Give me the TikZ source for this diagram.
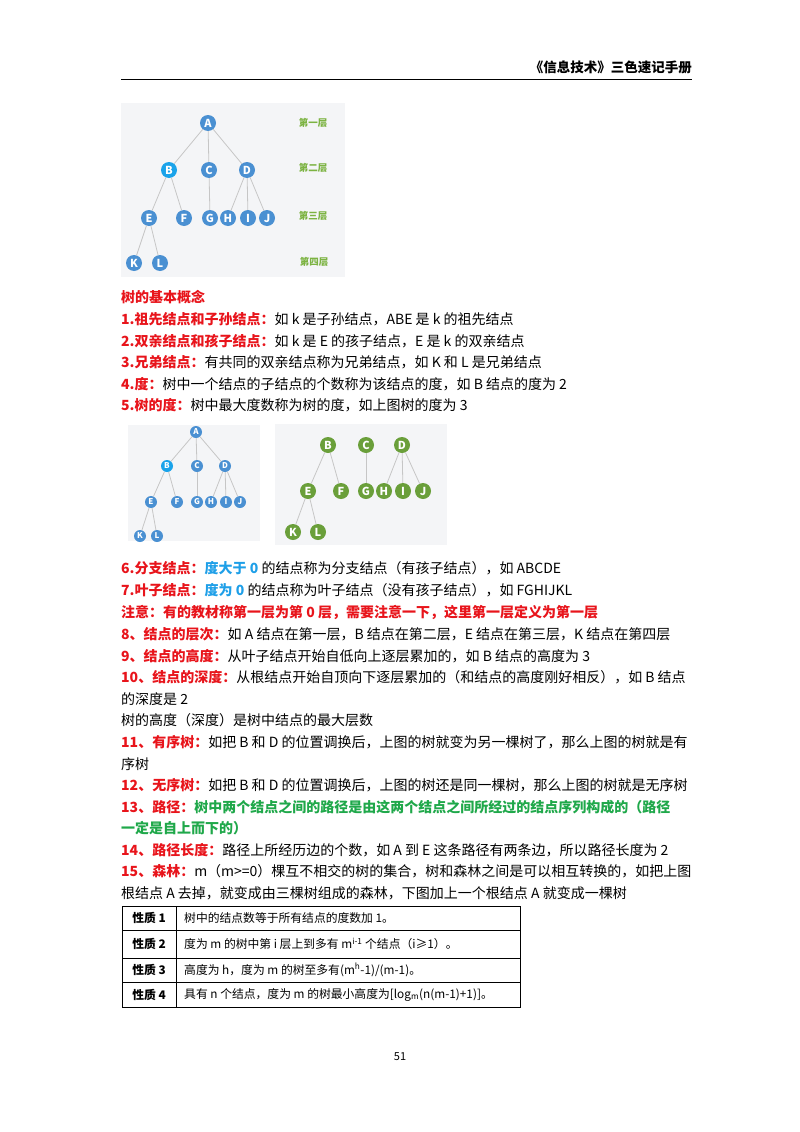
\documentclass[tikz,border=0pt]{standalone}
\usepackage{fontspec}
\setmainfont{Noto Sans CJK SC}
\definecolor{tblue}{HTML}{4A90D2}
\definecolor{tbb}{HTML}{1AA3EA}
\definecolor{tgreen}{HTML}{6A9F3A}
\definecolor{lgreen}{HTML}{7CB342}
\definecolor{bgg}{HTML}{F4F5F7}
\definecolor{lred}{HTML}{E8141B}
\definecolor{lcyan}{HTML}{1E9FE8}
\definecolor{lgr}{HTML}{1FA84A}
\newcommand{\lb}[1]{{\bfseries\color{lred}#1}}
\begin{document}
\begin{tikzpicture}[x=1pt,y=-1pt,
  txt/.style={anchor=west,inner sep=0pt,font=\fontsize{14}{16}\selectfont},
  bn/.style={circle,fill=tblue,text=white,inner sep=0pt,minimum size=16pt,font=\bfseries\fontsize{11}{12}\selectfont},
  sn/.style={bn,minimum size=12pt,font=\bfseries\fontsize{8}{9}\selectfont},
  gn/.style={bn,fill=tgreen},
  edge/.style={draw=gray!45,line width=0.8pt},
  lev/.style={text=lgreen,font=\bfseries\fontsize{9.5}{10}\selectfont},
  cell/.style={anchor=west,inner sep=0pt,font=\fontsize{11.8}{13}\selectfont},
  hcell/.style={anchor=center,inner sep=0pt,font=\bfseries\fontsize{11.8}{13}\selectfont}]
\useasboundingbox (0,0) rectangle (800,1132);
\fill[white] (0,0) rectangle (800,1132);
% header
\node[anchor=east,inner sep=0pt,font=\bfseries\fontsize{13.5}{15}\selectfont] (hdr) at (692,67) {《信息技术》三色速记手册};
\coordinate (hl) at (121,79); \coordinate (hr) at (692,79);
\draw[line width=0.6pt] (hl) -- (hr);
% tree 1
\fill[bgg] (121,103) rectangle (345,277);
\begin{scope}[every node/.style={bn}]
\node (A) at (208,123) {A};
\node[fill=tbb] (B) at (169,170) {B}; \node (C) at (209,170) {C}; \node (D) at (247,170) {D};
\node (E) at (149,218) {E}; \node (F) at (184,218) {F}; \node (G) at (210,218) {G};
\node (H) at (228,218) {H}; \node (I) at (248,218) {I}; \node (J) at (267,218) {J};
\node (K) at (134,263) {K}; \node (L) at (160,263) {L};
\end{scope}
\foreach \a/\b in {A/B,A/C,A/D,B/E,B/F,C/G,D/H,D/I,D/J,E/K,E/L}{\draw[edge] (\a) -- (\b);}
\node[lev] (l1) at (313,123) {第一层};
\node[lev] (l2) at (313,168) {第二层};
\node[lev] (l3) at (313,216) {第三层};
\node[lev] (l4) at (314,262) {第四层};
% concepts
\node[txt,font=\bfseries\fontsize{14}{16}\selectfont,text=lred] (t0) at (121,297) {树的基本概念};
\node[txt] (t1) at (121,319) {\lb{1.祖先结点和子孙结点：}如 k 是子孙结点，ABE 是 k 的祖先结点};
\node[txt] (t2) at (121,341) {\lb{2.双亲结点和孩子结点：}如 k 是 E 的孩子结点，E 是 k 的双亲结点};
\node[txt] (t3) at (121,362) {\lb{3.兄弟结点：}有共同的双亲结点称为兄弟结点，如 K 和 L 是兄弟结点};
\node[txt] (t4) at (121,384) {\lb{4.度：}树中一个结点的子结点的个数称为该结点的度，如 B 结点的度为 2};
\node[txt] (t5) at (121,405) {\lb{5.树的度：}树中最大度数称为树的度，如上图树的度为 3};
% tree 2
\fill[bgg] (128,425) rectangle (260,541);
\begin{scope}[every node/.style={sn}]
\node (A2) at (196,432) {A};
\node[fill=tbb] (B2) at (167,466) {B}; \node (C2) at (197,466) {C}; \node (D2) at (225,466) {D};
\node (E2) at (151,502) {E}; \node (F2) at (177,502) {F}; \node (G2) at (197,502) {G};
\node (H2) at (211,502) {H}; \node (I2) at (226,502) {I}; \node (J2) at (240,502) {J};
\node (K2) at (140,536) {K}; \node (L2) at (157,536) {L};
\end{scope}
\foreach \a/\b in {A2/B2,A2/C2,A2/D2,B2/E2,B2/F2,C2/G2,D2/H2,D2/I2,D2/J2,E2/K2,E2/L2}{\draw[edge] (\a) -- (\b);}
% tree 3
\fill[bgg] (275,424) rectangle (447,545);
\begin{scope}[every node/.style={gn}]
\node (B3) at (328,445) {B}; \node (C3) at (366,445) {C}; \node (D3) at (402,445) {D};
\node (E3) at (308,491) {E}; \node (F3) at (341,491) {F}; \node (G3) at (366,491) {G};
\node (H3) at (384,491) {H}; \node (I3) at (403,491) {I}; \node (J3) at (423,491) {J};
\node (K3) at (293,532) {K}; \node (L3) at (318,532) {L};
\end{scope}
\foreach \a/\b in {B3/E3,B3/F3,C3/G3,D3/H3,D3/I3,D3/J3,E3/K3,E3/L3}{\draw[edge] (\a) -- (\b);}
% more concepts
\node[txt] (t6) at (121,568) {\lb{6.分支结点：}{\bfseries\color{lcyan}度大于 0} 的结点称为分支结点（有孩子结点），如 ABCDE};
\node[txt] (t7) at (121,590) {\lb{7.叶子结点：}{\bfseries\color{lcyan}度为 0} 的结点称为叶子结点（没有孩子结点），如 FGHIJKL};
\node[txt] (t8) at (121,612) {\lb{注意：有的教材称第一层为第 0 层，需要注意一下，这里第一层定义为第一层}};
\node[txt] (t9) at (121,634) {\lb{8、结点的层次：}如 A 结点在第一层，B 结点在第二层，E 结点在第三层，K 结点在第四层};
\node[txt] (t10) at (121,656) {\lb{9、结点的高度：}从叶子结点开始自低向上逐层累加的，如 B 结点的高度为 3};
\node[txt] (t11) at (121,677) {\lb{10、结点的深度：}从根结点开始自顶向下逐层累加的（和结点的高度刚好相反），如 B 结点};
\node[txt] (t12) at (121,699) {的深度是 2};
\node[txt] (t13) at (121,720) {树的高度（深度）是树中结点的最大层数};
\node[txt] (t14) at (121,742) {\lb{11、有序树：}如把 B 和 D 的位置调换后，上图的树就变为另一棵树了，那么上图的树就是有};
\node[txt] (t15) at (121,764) {序树};
\node[txt] (t16) at (121,785) {\lb{12、无序树：}如把 B 和 D 的位置调换后，上图的树还是同一棵树，那么上图的树就是无序树};
\node[txt] (t17) at (121,807) {\lb{13、路径：}{\bfseries\color{lgr}树中两个结点之间的路径是由这两个结点之间所经过的结点序列构成的（路径}};
\node[txt] (t18) at (121,828) {{\bfseries\color{lgr}一定是自上而下的）}};
\node[txt] (t19) at (121,850) {\lb{14、路径长度：}路径上所经历边的个数，如 A 到 E 这条路径有两条边，所以路径长度为 2};
\node[txt] (t20) at (121,871) {\lb{15、森林：}m（m>=0）棵互不相交的树的集合，树和森林之间是可以相互转换的，如把上图};
\node[txt] (t21) at (121,893) {根结点 A 去掉，就变成由三棵树组成的森林，下图加上一个根结点 A 就变成一棵树};
% table
\draw[line width=0.9pt] (122,906) rectangle (520,1007);
\foreach \yy in {930,958,982}{\draw[line width=0.6pt] (122,\yy) -- (520,\yy);}
\draw[line width=0.6pt] (176,906) -- (176,1007);
\node[hcell] (p1) at (149,918) {性质 1};
\node[hcell] (p2) at (149,944) {性质 2};
\node[hcell] (p3) at (149,970) {性质 3};
\node[hcell] (p4) at (149,994.5) {性质 4};
\node[cell] (q1) at (184,918) {树中的结点数等于所有结点的度数加 1。};
\node[cell] (q2) at (184,944) {度为 m 的树中第 i 层上到多有 m\textsuperscript{i-1} 个结点（i≥1）。};
\node[cell] (q3) at (184,970) {高度为 h，度为 m 的树至多有(m\textsuperscript{h}-1)/(m-1)。};
\node[cell] (q4) at (184,994.5) {具有 n 个结点，度为 m 的树最小高度为[log\textsubscript{m}(n(m-1)+1)]。};
\node[font=\fontsize{11}{12}\selectfont] (pg) at (400,1057) {51};
\end{tikzpicture}
\end{document}
